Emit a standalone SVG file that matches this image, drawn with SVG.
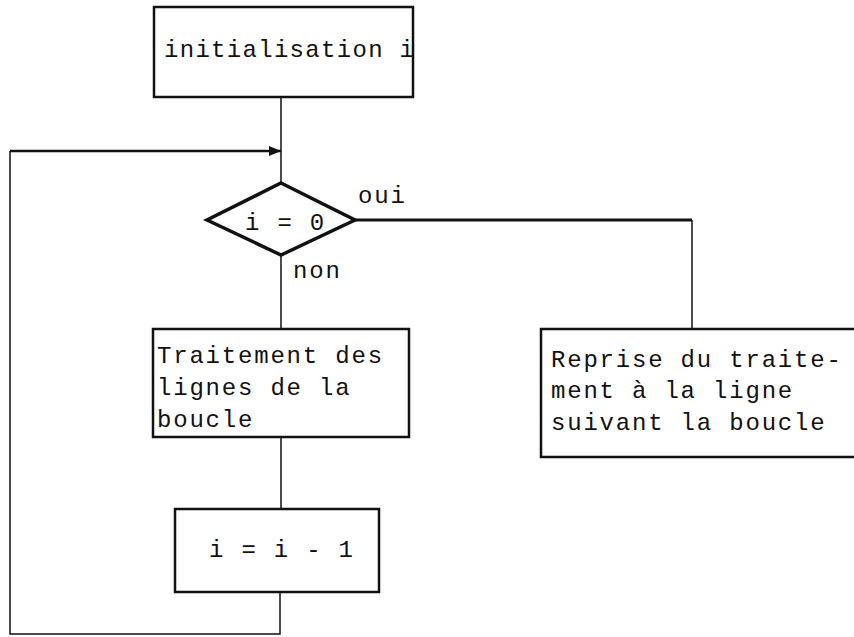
<svg xmlns="http://www.w3.org/2000/svg" width="854" height="637" viewBox="0 0 854 637">
<style>
.box{fill:#fff;stroke:#111;stroke-width:2.5}
.dia{fill:#fff;stroke:#111;stroke-width:3.5;stroke-linejoin:miter}
.thin{fill:none;stroke:#111;stroke-width:1.5}
.thick{fill:none;stroke:#111;stroke-width:3}
.t{font-family:"Liberation Mono","Courier New",monospace;font-size:24px;letter-spacing:1.8px;fill:#111}
</style>
<defs>
<marker id="ah" markerWidth="12" markerHeight="10" refX="12" refY="5" orient="auto" markerUnits="userSpaceOnUse" viewBox="0 0 12 10">
<path d="M0,0 L12,5 L0,10 z" fill="#111"/>
</marker>
<clipPath id="c1"><rect x="154" y="7" width="259" height="90"/></clipPath>
</defs>
<g id="connectors">
<line class="thin" x1="281" y1="97" x2="281" y2="183"/>
<line class="thin" x1="281" y1="255" x2="281" y2="329"/>
<line class="thin" x1="281" y1="437" x2="281" y2="509"/>
<polyline class="thin" points="280,592 280,634 10,634 10,151"/>
<line x1="10" y1="151" x2="281" y2="151" stroke="#111" stroke-width="2.5" marker-end="url(#ah)"/>
<line class="thick" x1="355" y1="220" x2="692" y2="220"/>
<line class="thin" x1="692" y1="220" x2="692" y2="329"/>
</g>
<g id="init">
<rect class="box" x="154" y="7" width="259" height="90"/>
<text class="t" x="164" y="57" style="letter-spacing:1.3px" clip-path="url(#c1)">initialisation i</text>
</g>
<g id="decision">
<polygon class="dia" points="281,183 355,220 281,255 207,220"/>
<text class="t" x="245" y="230">i = 0</text>
<text class="t" x="358" y="203">oui</text>
<text class="t" x="293" y="278">non</text>
</g>
<g id="traitement">
<rect class="box" x="153" y="329" width="256" height="108"/>
<text class="t" x="157" y="363">Traitement des</text>
<text class="t" x="157" y="395">lignes de la</text>
<text class="t" x="157" y="427">boucle</text>
</g>
<g id="decrement">
<rect class="box" x="175" y="509" width="204" height="83"/>
<text class="t" x="209" y="557">i = i - 1</text>
</g>
<g id="reprise">
<path class="box" d="M860,329 H541 V457 H860"/>
<text class="t" x="551" y="367">Reprise du traite-</text>
<text class="t" x="551" y="398">ment à la ligne</text>
<text class="t" x="551" y="430">suivant la boucle</text>
</g>
</svg>
